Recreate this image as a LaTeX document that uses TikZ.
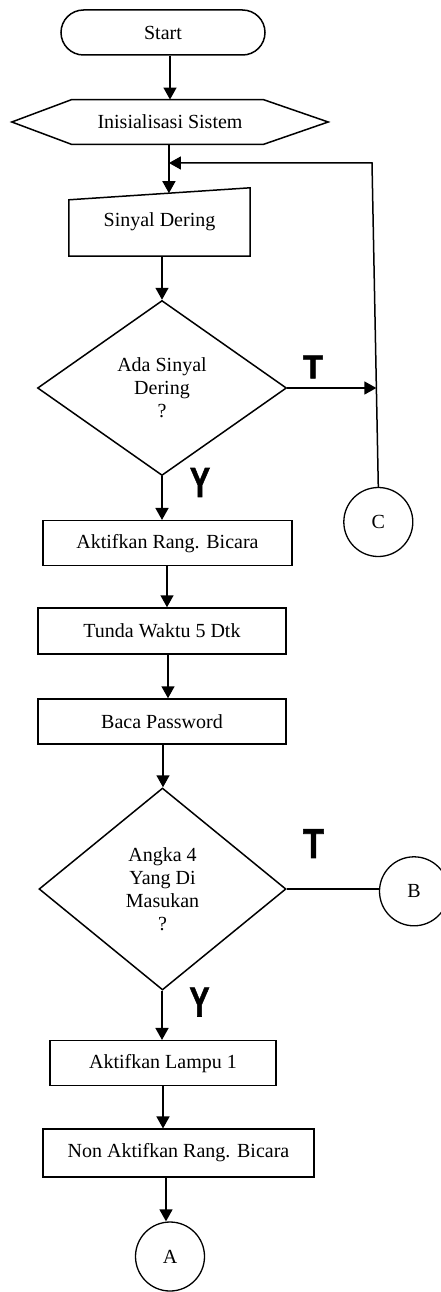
\documentclass[tikz,border=0pt]{standalone}
\usepackage{fontspec}
\setmainfont{Liberation Serif}
\newfontfamily\labfont{Liberation Sans}[BoldFeatures={FakeBold=1.5}]
\usetikzlibrary{shapes.geometric,shapes.misc,arrows.meta,calc}
\begin{document}
\begin{tikzpicture}[x=1pt,y=-1pt,
  every node/.style={font=\fontsize{20}{23}\selectfont},
  box/.style={draw, rectangle, inner sep=0pt, line width=1.5pt},
  conn/.style={line width=1.5pt, -{Triangle[width=13pt,length=12pt]}},
  plain/.style={line width=1.5pt},
  dec/.style={draw, diamond, inner sep=0pt, align=center, line width=1.5pt},
  conc/.style={draw, circle, minimum size=69pt, inner sep=0pt, line width=1.3pt},
  lab/.style={font=\labfont\bfseries\fontsize{42}{42}\selectfont, inner sep=0pt}
]
\useasboundingbox (0,0) rectangle (441,1292);
\fill[white] (0,0) rectangle (441,1292);

% Start
\node[draw, rounded rectangle, minimum width=204pt, minimum height=45pt, inner sep=0pt, line width=1.5pt] (start) at (163,32.5) {Start};

% Hexagon
\node[inner sep=0pt, minimum width=316pt, minimum height=44.5pt] (hex) at (170,122) {Inisialisasi Sistem};
\draw[plain] (hex.west) -- ($(hex.north west)+(60,0)$) -- ($(hex.north east)+(-65,0)$) -- (hex.east) -- ($(hex.south east)+(-65,0)$) -- ($(hex.south west)+(60,0)$) -- cycle;
\draw[conn] (hex.north |- start.south) -- (hex.north);

% Sinyal Dering (manual input)
\node[inner sep=0pt, minimum width=181pt, minimum height=68pt] (sd) at (159.5,222) {Sinyal Dering};
\coordinate (sdtl) at ($(sd.north west)+(0,12)$);
\draw[plain] (sd.south west) -- (sd.south east) -- (sd.north east) -- (sdtl) -- cycle;
\coordinate (sdin) at ($(sdtl)!0.552!(sd.north east)$);
\draw[conn] (sdin |- hex.south) -- (sdin);

% Decision 1
\node[dec, minimum width=249pt, minimum height=175pt] (d1) at (162,388) {Ada Sinyal\\Dering\\?};
\draw[conn] (sd.south -| d1.north) -- (d1.north);

% Connector C and feedback
\node[conc] (C) at (378.3,522) {C};
\coordinate (cnr) at (372,163);
\draw[conn] (C.north) -- (cnr) -- (cnr -| sdin);
\coordinate (tend) at ($(cnr)!0.692!(C.north)$);
\draw[conn] (d1.east) -- (d1.east -| tend);
\node[font=\labfont\bfseries\fontsize{33}{33}\selectfont, inner sep=0pt] (t1) at (313,367) {T};
\node[lab] (y1) at (200,482.5) {\scalebox{0.72}[1]{Y}};

% Boxes
\node[box, minimum width=249pt, minimum height=45pt] (b1) at (167.5,543.2) {Aktifkan Rang. Bicara};
\draw[conn] (d1.south) -- (d1.south |- b1.north);
\node[box, minimum width=248pt, minimum height=46pt] (b2) at (162,631) {Tunda Waktu 5 Dtk};
\coordinate (b1o) at ($(b2.north)+(5,-42)$);
\draw[conn] (b1o) -- (b1o |- b2.north);
\node[box, minimum width=248pt, minimum height=45pt] (b3) at (162,721.5) {Baca Password};
\coordinate (b2o) at ($(b2.south)+(6,0)$);
\draw[conn] (b2o) -- (b2o |- b3.north);

% Decision 2
\node[dec, minimum width=247pt, minimum height=202pt] (d2) at (162.5,889) {Angka 4\\Yang Di\\Masukan\\?};
\coordinate (b3o) at ($(b3.south)+(1,0)$);
\draw[conn] (b3o) -- (b3o |- d2.north);
\node[conc] (B) at (414,891.3) {B};
\draw[plain] (d2.east) -- (d2.east -| B.west);
\node[lab] (t2) at (313.5,843.5) {\scalebox{0.82}[1]{T}};
\node[lab] (y2) at (199.5,1002) {\scalebox{0.72}[1]{Y}};

\node[box, minimum width=226pt, minimum height=45pt] (b4) at (163,1063.2) {Aktifkan Lampu 1};
\coordinate (d2o) at ($(d2.south)+(-0.5,0)$);
\draw[conn] (d2o) -- (d2o |- b4.north);
\node[box, minimum width=271pt, minimum height=47.6pt] (b5) at (178.5,1153) {Non Aktifkan Rang. Bicara};
\draw[conn] (b4.south) -- (b4.south |- b5.north);
\node[conc] (A) at (170,1256.5) {A};
\coordinate (b5o) at ($(b5.south)+(-12.5,0)$);
\draw[conn] (b5o) -- (b5o |- A.north);
\end{tikzpicture}
\end{document}
